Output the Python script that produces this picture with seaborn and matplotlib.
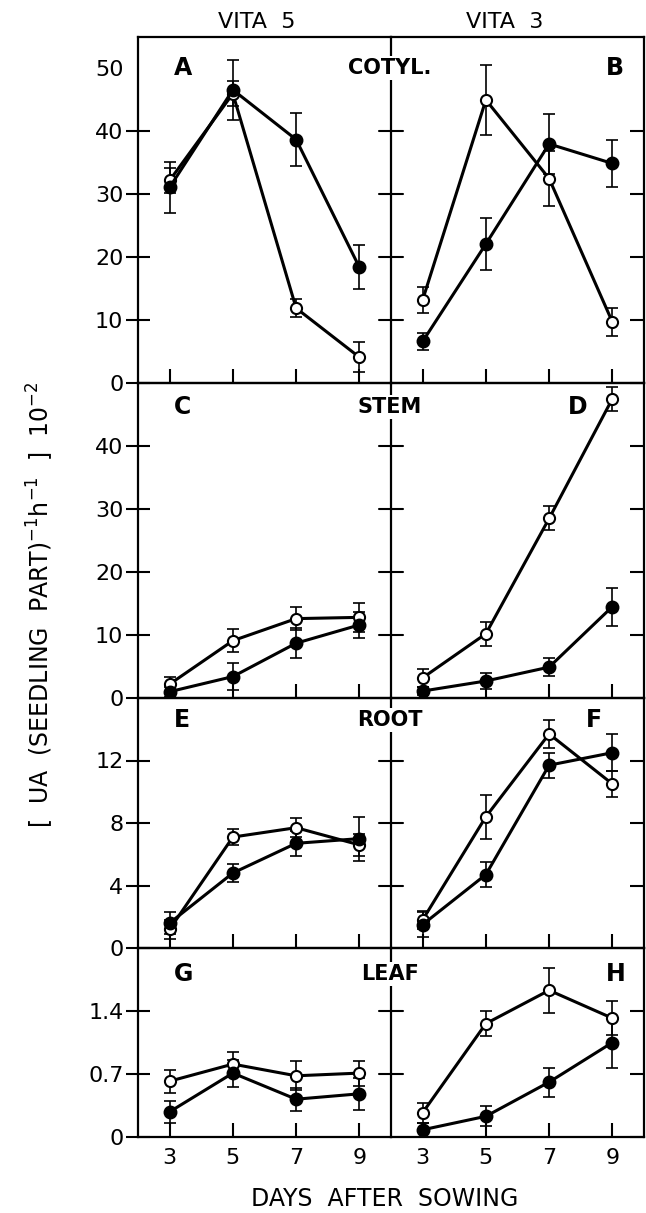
import numpy as np
import pandas as pd
import matplotlib
matplotlib.use("Agg")
import matplotlib.pyplot as plt
import seaborn as sns

# ---------------- data ----------------
days = [3, 5, 7, 9]
cultivars = ["VITA  5", "VITA  3"]
parts = ["COTYL.", "STEM", "ROOT", "LEAF"]
panel_letters = [["A", "B"], ["C", "D"], ["E", "F"], ["G", "H"]]

# COTYL.
cotyl_v5_open = [32.2, 46.0, 11.9, 4.1]
cotyl_v5_open_err = [2.0, 2.0, 1.4, 2.4]
cotyl_v5_fill = [31.1, 46.6, 38.7, 18.4]
cotyl_v5_fill_err = [4.0, 4.8, 4.2, 3.5]
cotyl_v3_open = [13.2, 45.0, 32.5, 9.7]
cotyl_v3_open_err = [2.0, 5.6, 4.3, 2.3]
cotyl_v3_fill = [6.6, 22.1, 38.0, 34.9]
cotyl_v3_fill_err = [1.4, 4.2, 4.8, 3.7]

# STEM
stem_v5_open = [2.2, 9.1, 12.6, 12.8]
stem_v5_open_err = [1.2, 1.8, 1.8, 2.3]
stem_v5_fill = [1.0, 3.4, 8.7, 11.6]
stem_v5_fill_err = [0.8, 2.2, 2.4, 2.0]
stem_v3_open = [3.2, 10.2, 28.5, 47.5]
stem_v3_open_err = [1.4, 1.9, 1.9, 1.9]
stem_v3_fill = [1.1, 2.7, 4.9, 14.5]
stem_v3_fill_err = [0.6, 1.2, 1.4, 3.0]

# ROOT
root_v5_open = [1.2, 7.1, 7.7, 6.6]
root_v5_open_err = [0.6, 0.5, 0.6, 0.7]
root_v5_fill = [1.6, 4.8, 6.7, 7.0]
root_v5_fill_err = [0.7, 0.55, 0.8, 1.4]
root_v3_open = [1.8, 8.4, 13.7, 10.5]
root_v3_open_err = [0.6, 1.4, 0.9, 0.85]
root_v3_fill = [1.5, 4.7, 11.7, 12.5]
root_v3_fill_err = [0.8, 0.8, 0.8, 1.2]

# LEAF
leaf_v5_open = [0.62, 0.81, 0.68, 0.71]
leaf_v5_open_err = [0.13, 0.14, 0.16, 0.14]
leaf_v5_fill = [0.28, 0.71, 0.42, 0.48]
leaf_v5_fill_err = [0.12, 0.15, 0.13, 0.18]
leaf_v3_open = [0.27, 1.26, 1.63, 1.32]
leaf_v3_open_err = [0.11, 0.14, 0.25, 0.19]
leaf_v3_fill = [0.08, 0.23, 0.61, 1.05]
leaf_v3_fill_err = [0.08, 0.11, 0.16, 0.28]

row_ylim_top = [55, 50, 16, 2.1]
row_yticks = [[0, 10, 20, 30, 40, 50], [0, 10, 20, 30, 40], [0, 4, 8, 12], [0, 0.7, 1.4]]
row_yticklabels = [["0", "10", "20", "30", "40", "50"], ["0", "10", "20", "30", "40"],
                   ["0", "4", "8", "12"], ["0", "0.7", "1.4"]]

series = [
    [(cotyl_v5_open, cotyl_v5_open_err, cotyl_v5_fill, cotyl_v5_fill_err),
     (cotyl_v3_open, cotyl_v3_open_err, cotyl_v3_fill, cotyl_v3_fill_err)],
    [(stem_v5_open, stem_v5_open_err, stem_v5_fill, stem_v5_fill_err),
     (stem_v3_open, stem_v3_open_err, stem_v3_fill, stem_v3_fill_err)],
    [(root_v5_open, root_v5_open_err, root_v5_fill, root_v5_fill_err),
     (root_v3_open, root_v3_open_err, root_v3_fill, root_v3_fill_err)],
    [(leaf_v5_open, leaf_v5_open_err, leaf_v5_fill, leaf_v5_fill_err),
     (leaf_v3_open, leaf_v3_open_err, leaf_v3_fill, leaf_v3_fill_err)],
]

# ---------------- style ----------------
sns.set_style("ticks")
plt.rcParams["font.family"] = ["DejaVu Sans"]
plt.rcParams["axes.linewidth"] = 1.6
plt.rcParams["mathtext.default"] = "regular"
for k in ["text.color", "xtick.color", "ytick.color", "axes.labelcolor", "axes.edgecolor"]:
    plt.rcParams[k] = "black"

W, H = 646, 1213
fig = plt.figure(figsize=(W / 100, H / 100), dpi=100)
gs = fig.add_gridspec(4, 2, left=138 / W, right=644 / W, top=1 - 37 / H, bottom=1 - 1137 / H,
                      height_ratios=[346, 315, 250, 189], hspace=0, wspace=0)

letter_x = [[0.14, 0.85], [0.14, 0.70], [0.14, 0.77], [0.14, 0.85]]
label_dy = [31, 24, 22, 26]
row_tops = [37, 383, 698, 948]
row_heights = [346, 315, 250, 189]

for r in range(4):
    for c in range(2):
        ax = fig.add_subplot(gs[r, c])
        vo, eo, vf, ef = series[r][c]
        df_o = pd.DataFrame({"day": days, "val": vo})
        df_f = pd.DataFrame({"day": days, "val": vf})
        ax.errorbar(days, vo, yerr=eo, fmt="none", ecolor="black", elinewidth=1.2,
                    capsize=4, capthick=1.2, zorder=1)
        ax.errorbar(days, vf, yerr=ef, fmt="none", ecolor="black", elinewidth=1.2,
                    capsize=4, capthick=1.2, zorder=1)
        sns.lineplot(data=df_o, x="day", y="val", ax=ax, color="black", linewidth=2.2,
                     marker="o", markersize=8, markerfacecolor="white",
                     markeredgecolor="black", markeredgewidth=1.5, zorder=3)
        sns.lineplot(data=df_f, x="day", y="val", ax=ax, color="black", linewidth=2.2,
                     marker="o", markersize=8.5, markerfacecolor="black",
                     markeredgecolor="black", markeredgewidth=1.5, zorder=4)
        ax.set_xlim(2, 10)
        ax.set_ylim(0, row_ylim_top[r])
        ax.set_xlabel("")
        ax.set_ylabel("")
        ax.set_xticks(days)
        ax.set_yticks(row_yticks[r])
        ax.tick_params(axis="x", direction="in", length=10, width=1.5, labelsize=16, pad=8,
                       bottom=True, top=False, labelbottom=(r == 3))
        if r == 3:
            ax.set_xticklabels([str(d) for d in days])
        if c == 0:
            ax.set_yticklabels(row_yticklabels[r])
            ax.tick_params(axis="y", direction="inout", length=17, width=1.5, labelsize=16,
                           pad=2, left=True, right=False, labelleft=True)
            ax.spines["right"].set_visible(False)
            if r == 0:
                ax.yaxis.get_major_ticks()[-1].tick1line.set_visible(False)
        else:
            ax.tick_params(axis="y", which="major", left=False, right=True, labelleft=False,
                           direction="in", length=10, width=1.5)
            if r == 0:
                ax.yaxis.get_major_ticks()[-1].tick2line.set_visible(False)
            # divider ticks crossing both sides
            for yt in row_yticks[r]:
                if 0 < yt < row_ylim_top[r] and not (r == 0 and yt == 50):
                    ax.plot([2 - 0.38, 2 + 0.38], [yt, yt], color="black", lw=1.5,
                            clip_on=False, zorder=5)
        ax.text(letter_x[r][c], 1 - label_dy[r] / row_heights[r], panel_letters[r][c],
                transform=ax.transAxes, ha="left", va="center", fontsize=17,
                fontweight="bold")
        ax.set_facecolor("none")

    # part label on divider
    yc = 1 - (row_tops[r] + label_dy[r]) / H
    fig.text(390 / W, yc, parts[r], ha="center", va="center", fontsize=15,
             fontweight="bold",
             bbox=dict(facecolor="white", edgecolor="none", pad=1.5), zorder=10)

fig.text(257 / W, 1 - 22 / H, cultivars[0], ha="center", va="center", fontsize=16)
fig.text(505 / W, 1 - 22 / H, cultivars[1], ha="center", va="center", fontsize=16)
fig.text(385 / W, 1 - 1199 / H, "DAYS  AFTER  SOWING", ha="center", va="center", fontsize=17)
fig.text(40 / W, 1 - 605 / H,
         r"[  UA  (SEEDLING  PART)$^{-1}$h$^{-1}$  ]  10$^{-2}$",
         rotation=90, ha="center", va="center", fontsize=17)

fig.savefig("out.png", dpi=100, facecolor="white")
